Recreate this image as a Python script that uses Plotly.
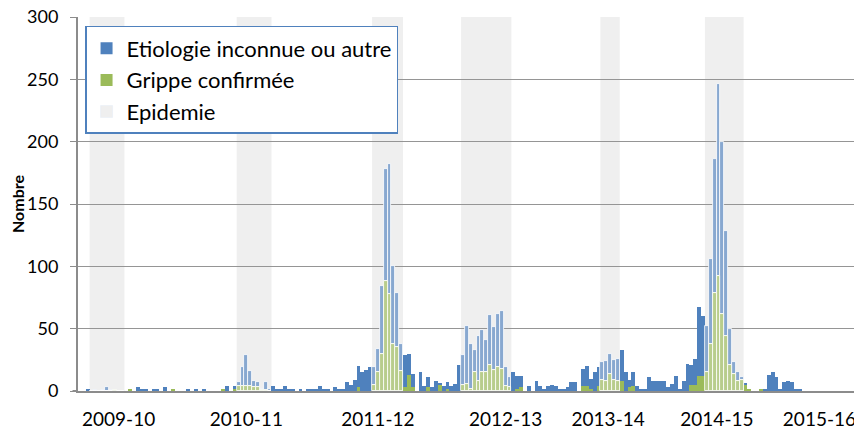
import plotly.graph_objects as go

# Weekly counts (index = week position on the axis)
total = [0, 0, 1, 0, 1, 0, 1, 3, 1, 1, 0, 0, 0, 1, 0, 3, 1, 2, 0, 1,
         1, 0, 3, 0, 1, 0, 0, 0, 1, 0, 2, 0, 1, 0, 0, 0, 0, 1, 4, 0,
         4, 7, 19, 29, 16, 8, 7, 2, 7, 2, 4, 2, 1, 4, 1, 1, 0, 1, 0, 1,
         1, 1, 4, 1, 1, 0, 3, 1, 1, 7, 5, 9, 20, 15, 17, 19, 19, 34, 84, 178,
         182, 100, 79, 38, 29, 30, 14, 0, 15, 4, 11, 3, 8, 6, 4, 7, 4, 6, 21, 29,
         52, 38, 33, 44, 49, 41, 61, 51, 62, 64, 19, 11, 15, 12, 12, 0, 4, 0, 8, 4,
         2, 4, 5, 4, 2, 2, 3, 7, 7, 0, 18, 20, 10, 15, 19, 23, 24, 30, 25, 26,
         33, 15, 9, 15, 4, 1, 1, 11, 8, 8, 8, 8, 3, 6, 12, 1, 8, 22, 21, 26,
         67, 60, 52, 106, 186, 246, 200, 128, 50, 23, 15, 11, 6, 2, 0, 0, 1, 2, 13, 15,
         11, 1, 7, 8, 7, 1, 1]
grippe = [0, 0, 0, 0, 0, 0, 0, 0, 0, 1, 0, 0, 0, 1, 0, 0, 0, 0, 0, 0,
          0, 0, 0, 0, 1, 0, 0, 0, 0, 0, 0, 0, 0, 0, 0, 0, 0, 1, 0, 0,
          1, 4, 4, 4, 4, 3, 3, 1, 1, 0, 0, 0, 0, 0, 0, 0, 0, 0, 0, 0,
          0, 0, 0, 0, 0, 0, 0, 0, 0, 0, 0, 0, 3, 0, 0, 0, 5, 15, 30, 88,
          78, 38, 35, 16, 3, 13, 3, 0, 0, 0, 3, 0, 0, 5, 0, 2, 0, 0, 0, 5,
          6, 2, 15, 8, 15, 15, 21, 17, 19, 18, 4, 3, 0, 2, 3, 0, 0, 0, 0, 0,
          0, 0, 0, 0, 0, 0, 0, 0, 0, 0, 4, 4, 2, 0, 4, 9, 8, 14, 9, 8,
          8, 0, 3, 4, 0, 0, 0, 0, 0, 0, 0, 0, 0, 0, 0, 0, 0, 0, 5, 5,
          12, 12, 15, 38, 79, 92, 62, 44, 21, 14, 8, 9, 5, 2, 0, 0, 1, 0, 0, 0,
          0, 0, 0, 0, 0, 0, 0]
autre = [t - g for t, g in zip(total, grippe)]
weeks = list(range(len(total)))

# Epidemic periods (first and last week index)
epi_start = [3, 41, 76, 99, 135, 162]
epi_end = [11, 49, 83, 111, 139, 171]

# Season labels and the week index they sit under
seasons = ["2009-10", "2010-11", "2011-12", "2012-13", "2013-14", "2014-15", "2015-16"]
season_week = [10, 43, 77, 110, 136.5, 164.6, 191.1]

is_epi = [any(s <= w <= e for s, e in zip(epi_start, epi_end)) for w in weeks]

BLUE, BLUE_L = "#4f81bd", "#88a8d0"
GREEN, GREEN_L = "#9bbb59", "#b8cd8c"
AXIS = "#8c8c8c"
FONT = "Lato"

fig = go.Figure()
fig.add_bar(x=weeks, y=autre, base=grippe, name="Etiologie inconnue ou autre",
            marker=dict(color=[BLUE_L if e else BLUE for e in is_epi],
                        line=dict(color="white", width=[0.8 if e else 0 for e in is_epi])),
            legendrank=1)
fig.add_bar(x=weeks, y=grippe, name="Grippe confirmée",
            marker=dict(color=[GREEN_L if e else GREEN for e in is_epi],
                        line=dict(color="white", width=[0.8 if e else 0 for e in is_epi])),
            legendrank=2)
fig.add_bar(x=[None], y=[None], name="Epidemie", marker=dict(color="#efefef"),
            legendrank=3)

for s, e in zip(epi_start, epi_end):
    fig.add_shape(type="rect", xref="x", yref="paper", x0=s - 0.5, x1=e + 0.5,
                  y0=0, y1=1, fillcolor="#efefef", line=dict(width=0), layer="below")

# small extension of the category axis line left of the value axis
fig.add_shape(type="line", xref="paper", yref="paper", x0=-0.007, x1=0, y0=0, y1=0,
              line=dict(color=AXIS, width=2), layer="above")

# page body has an 8px margin: figure drawn from (8, 8)
fig.update_layout(
    width=854, height=428,
    margin=dict(l=70, r=0, t=9, b=45, autoexpand=False),
    barmode="overlay", bargap=0,
    plot_bgcolor="white", paper_bgcolor="white",
    font=dict(family=FONT, color="black", size=18),
    showlegend=True,
    legend=dict(x=0.009, y=0.976, xanchor="left", yanchor="top",
                bgcolor="white", bordercolor="#4f81bd", borderwidth=1.5,
                font=dict(family=FONT, size=22, color="black")),
)
fig.update_xaxes(range=[-0.5, 202.1], tickvals=season_week, ticktext=seasons,
                 showgrid=False, showline=True, linecolor=AXIS, linewidth=2,
                 ticks="", ticklabelstandoff=10, zeroline=False, automargin=False,
                 ticklabeloverflow="allow",
                 tickfont=dict(family=FONT, size=19))
fig.update_yaxes(range=[0, 300], dtick=50, showgrid=True, gridcolor="#959595", gridwidth=1.3,
                 showline=True, linecolor=AXIS, linewidth=2, ticks="outside",
                 ticklen=6, tickcolor=AXIS, zeroline=False, ticklabelstandoff=8,
                 automargin=False, ticklabeloverflow="allow",
                 tickfont=dict(family=FONT, size=18),
                 title=dict(text="<b>Nombre</b>", font=dict(family=FONT, size=16), standoff=14))

fig.write_html("out.html")
